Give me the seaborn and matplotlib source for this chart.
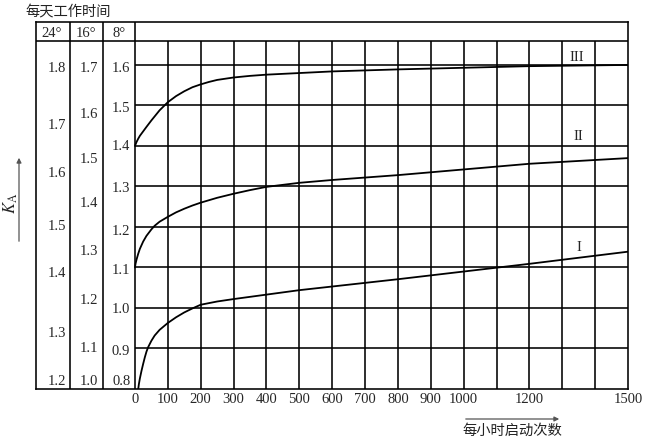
import numpy as np
import pandas as pd
import matplotlib.pyplot as plt
import seaborn as sns

# 横轴：每小时启动次数
xtick_vals = [0, 100, 200, 300, 400, 500, 600, 700, 800, 900, 1000, 1200, 1500]
grid_x = [100, 200, 300, 400, 500, 600, 700, 800, 900, 1000, 1100, 1200, 1300, 1400]
grid_k = [0.9, 1.0, 1.1, 1.2, 1.3, 1.4, 1.5, 1.6]

# 三条曲线 (8° 刻度读数)
x_III = [0, 5, 10, 15, 25, 35, 50, 60, 75, 90, 100, 125, 150, 175, 200, 225, 250, 300, 350,
         400, 500, 600, 800, 1000, 1200, 1500]
k_III = [1.400, 1.410, 1.418, 1.425, 1.436, 1.447, 1.463, 1.473, 1.488, 1.500, 1.508, 1.523,
         1.535, 1.545, 1.552, 1.558, 1.563, 1.569, 1.573, 1.576, 1.580, 1.584, 1.589, 1.593,
         1.597, 1.600]
x_II = [0, 2, 5, 10, 15, 25, 35, 50, 60, 75, 100, 125, 150, 175, 200, 250, 300, 350, 400,
        500, 600, 700, 800, 1000, 1200, 1500]
k_II = [1.100, 1.110, 1.120, 1.134, 1.146, 1.164, 1.178, 1.194, 1.203, 1.213, 1.225, 1.236,
        1.245, 1.253, 1.260, 1.272, 1.282, 1.291, 1.299, 1.309, 1.316, 1.322, 1.328, 1.342,
        1.356, 1.370]
x_I = [10, 12, 15, 20, 25, 30, 35, 40, 50, 60, 75, 100, 125, 150, 175, 200, 250, 300, 400,
       500, 600, 800, 1000, 1200, 1500]
k_I = [0.800, 0.812, 0.826, 0.845, 0.862, 0.878, 0.892, 0.903, 0.919, 0.932, 0.946, 0.963,
       0.977, 0.989, 0.999, 1.008, 1.016, 1.022, 1.033, 1.044, 1.053, 1.071, 1.090, 1.109,
       1.139]

# 左侧三列刻度 (标签, 对应 8° 刻度上的位置)
scale_24_labels = ['1.8', '1.7', '1.6', '1.5', '1.4', '1.3', '1.2']
scale_24_at = [1.594, 1.454, 1.335, 1.203, 1.088, 0.940, 0.820]
scale_16_labels = ['1.7', '1.6', '1.5', '1.4', '1.3', '1.2', '1.1', '1.0']
scale_16_at = [1.594, 1.481, 1.368, 1.261, 1.141, 1.022, 0.903, 0.820]
scale_8_labels = ['1.6', '1.5', '1.4', '1.3', '1.2', '1.1', '1.0', '0.9', '0.8']
scale_8_at = [1.594, 1.496, 1.401, 1.298, 1.191, 1.096, 0.998, 0.895, 0.820]

sns.set_style("white")
plt.rcParams['font.family'] = ['Liberation Serif', 'Noto Sans CJK SC']
plt.rcParams['mathtext.fontset'] = 'stix'

W, H = 652, 439
fig = plt.figure(figsize=(W / 100, H / 100), dpi=100)
ax = fig.add_axes([36 / W, 1 - 390 / H, (628 - 36) / W, (390 - 23) / H])

x_left, k_bot, k_top = -301, 0.8, 1.706
k_head = 1.659
col_24, col_16 = -198, -97
ax.set_xlim(x_left, 1500)
ax.set_ylim(k_bot, k_top)

lw = 1.15
for s in ax.spines.values():
    s.set_color('black')
    s.set_linewidth(lw)

# 网格与分栏
ax.vlines(grid_x, k_bot, k_head, color='black', lw=lw)
ax.hlines(grid_k, 0, 1500, color='black', lw=lw)
ax.vlines([col_24, col_16, 0], k_bot, k_top, color='black', lw=lw)
ax.hlines(k_head, x_left, 1500, color='black', lw=lw)

# 曲线
df = pd.concat([
    pd.DataFrame({'n': x_III, 'K': k_III, 'curve': 'III'}),
    pd.DataFrame({'n': x_II, 'K': k_II, 'curve': 'II'}),
    pd.DataFrame({'n': x_I, 'K': k_I, 'curve': 'I'}),
])
sns.lineplot(data=df, x='n', y='K', units='curve', estimator=None, sort=False,
             color='black', lw=1.3, ax=ax, legend=False)

curve_names = ['III', 'II', 'I']
label_n = [1345, 1350, 1350]
label_k = [1.620, 1.425, 1.153]
for name, n, k in zip(curve_names, label_n, label_k):
    ax.text(n, k, name, ha='center', va='center', fontsize=10.5)

# 左侧刻度
fs = 10.5
for lab, k in zip(scale_24_labels, scale_24_at):
    ax.text(-210, k, lab, ha='right', va='center', fontsize=fs)
for lab, k in zip(scale_16_labels, scale_16_at):
    ax.text(-112, k, lab, ha='right', va='center', fontsize=fs)
for lab, k in zip(scale_8_labels, scale_8_at):
    ax.text(-14, k, lab, ha='right', va='center', fontsize=fs)

head_k = 1.681
ax.text(-252, head_k, '24°', ha='center', va='center', fontsize=fs)
ax.text(-149, head_k, '16°', ha='center', va='center', fontsize=fs)
ax.text(-49, head_k, '8°', ha='center', va='center', fontsize=fs)

ax.set_xticks(xtick_vals)
ax.set_xticklabels([str(v) for v in xtick_vals], fontsize=fs)
ax.tick_params(axis='x', length=0, pad=2.5)
ax.set_yticks([])
ax.set_xlabel('')
ax.set_ylabel('')

# 标题与坐标说明
fig.text(25 / W, 1 - 12 / H, '每天工作时间', fontsize=10.3, va='center', ha='left',
         family=['Noto Sans CJK SC'], color='#222222')
fig.text(512 / W, 1 - 431 / H, '每小时启动次数', fontsize=10.3, va='center', ha='center',
         family=['Noto Sans CJK SC'], color='#222222')
fig.text(11 / W, 1 - 203 / H, r'$K_{\mathrm{A}}$', fontsize=12, va='center', ha='center',
         rotation=90)
arrow = dict(arrowstyle='-|>', color='#555555', lw=0.9, mutation_scale=7)
ax.annotate('', xy=(562 / W, 1 - 420 / H), xytext=(463 / W, 1 - 420 / H),
            xycoords='figure fraction', textcoords='figure fraction', arrowprops=arrow)
ax.annotate('', xy=(19 / W, 1 - 156 / H), xytext=(19 / W, 1 - 245 / H),
            xycoords='figure fraction', textcoords='figure fraction', arrowprops=arrow)

fig.savefig('out.png', dpi=100)
